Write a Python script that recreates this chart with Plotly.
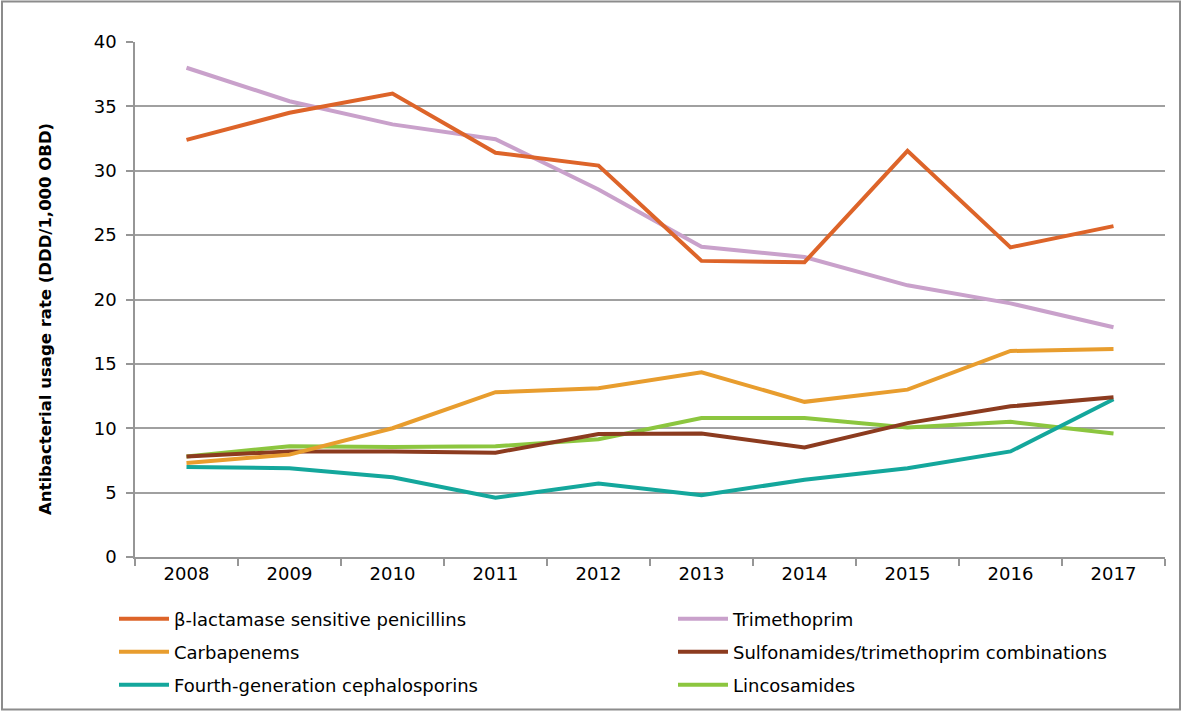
import plotly.graph_objects as go

years = ["2008", "2009", "2010", "2011", "2012", "2013", "2014", "2015", "2016", "2017"]

beta_lactamase = [32.4, 34.5, 36.0, 31.4, 30.4, 23.0, 22.9, 31.55, 24.05, 25.7]
trimethoprim = [38.0, 35.4, 33.6, 32.45, 28.55, 24.1, 23.3, 21.1, 19.7, 17.85]
carbapenems = [7.3, 7.95, 10.0, 12.8, 13.1, 14.35, 12.05, 13.0, 16.0, 16.15]
sulfonamides = [7.8, 8.2, 8.2, 8.1, 9.55, 9.6, 8.5, 10.4, 11.7, 12.4]
fourth_gen = [7.0, 6.9, 6.2, 4.6, 5.7, 4.8, 6.0, 6.9, 8.2, 12.25]
lincosamides = [7.8, 8.6, 8.55, 8.6, 9.15, 10.8, 10.8, 10.05, 10.5, 9.6]

names = [
    "β-lactamase sensitive penicillins",
    "Trimethoprim",
    "Carbapenems",
    "Sulfonamides/trimethoprim combinations",
    "Fourth-generation cephalosporins",
    "Lincosamides",
]
y_title = "Antibacterial usage rate (DDD/1,000 OBD)"
y_ticks = [0, 5, 10, 15, 20, 25, 30, 35, 40]

series = [beta_lactamase, trimethoprim, carbapenems, sulfonamides, fourth_gen, lincosamides]
colors = ["#DD6429", "#C9A1CB", "#E89D2E", "#8C3B1F", "#14A79C", "#8CC63F"]
legends = ["legend", "legend", "legend2", "legend2", "legend3", "legend3"]

FONT = "DejaVu Sans"
W, H = 1182, 711
L, R, T, B = 135, 17, 42, 154
pw, ph = W - L - R, H - T - B

def px_x(x):
    return (x - L) / pw

def px_y(y):
    return (H - B - y) / ph

fig = go.Figure()
order = [5, 4, 3, 2, 1, 0]
for i in order:
    fig.add_trace(go.Scatter(
        x=years, y=series[i], name=names[i], mode="lines",
        line=dict(color=colors[i], width=4),
        legend=legends[i], legendrank=i + 1,
    ))

leg_common = dict(
    orientation="h", xanchor="left", yanchor="middle",
    font=dict(family=FONT, size=18, color="#000000"),
    entrywidth=494, entrywidthmode="pixels", itemwidth=50,
    bgcolor="rgba(0,0,0,0)", traceorder="normal",
    borderwidth=0,
)
fig.update_layout(
    width=W, height=H,
    margin=dict(l=L, r=R, t=T, b=B, autoexpand=False),
    paper_bgcolor="white", plot_bgcolor="white",
    font=dict(family=FONT, size=17, color="#000000"),
    showlegend=True,
    legend=dict(x=px_x(114), y=px_y(619), **leg_common),
    legend2=dict(x=px_x(114), y=px_y(652), **leg_common),
    legend3=dict(x=px_x(114), y=px_y(685), **leg_common),
    xaxis=dict(
        type="category", range=[-0.5, 9.5],
        tickson="boundaries", ticks="outside", ticklen=7, tickcolor="#969696", tickwidth=1.5,
        showline=True, linecolor="#969696", linewidth=1.5,
        showgrid=False, zeroline=False,
        tickfont=dict(family=FONT, size=18, color="#000000"),
    ),
    yaxis=dict(
        range=[0, 40], tickvals=y_ticks,
        ticks="outside", ticklen=7, tickcolor="#969696", tickwidth=1.5,
        showline=True, linecolor="#969696", linewidth=1.5,
        showgrid=True, gridcolor="#A0A0A0", gridwidth=1.5,
        zeroline=False,
        tickfont=dict(family=FONT, size=18, color="#000000"),
        ticklabelstandoff=6,
    ),
    annotations=[dict(
        text="<b>" + y_title + "</b>", textangle=-90,
        xref="paper", yref="paper", x=px_x(46), y=px_y(319),
        xanchor="center", yanchor="middle", showarrow=False,
        font=dict(family=FONT, size=16.5, color="#000000"),
    )],
    shapes=[dict(
        type="rect", xref="paper", yref="paper",
        x0=px_x(2), x1=px_x(1180), y0=px_y(709.5), y1=px_y(1.5),
        line=dict(color="#8C8C8C", width=2), layer="below",
    )],
)

fig.write_html("out.html")
